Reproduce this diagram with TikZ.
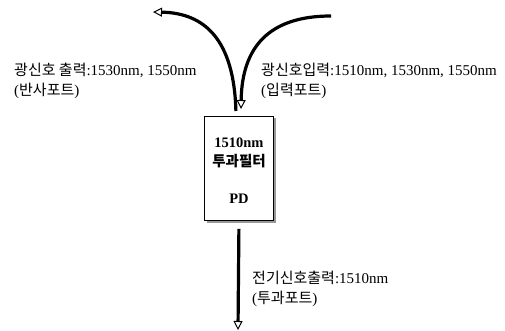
\documentclass[tikz,border=0pt]{standalone}
\usepackage{fontspec}
\setmainfont{Liberation Serif}
\newfontfamily\krfont{Noto Sans CJK KR}
\usetikzlibrary{arrows.meta,calc}

\tikzset{
  port/.style={line width=3.2pt, -{Triangle[open, length=9pt, width=9pt, line width=1pt]}},
  portlabel/.style={anchor=north west, inner sep=0pt, align=left,
    font=\fontsize{15}{20}\selectfont},
  filterbox/.style={draw, line width=0.8pt, fill=white, minimum width=69pt,
    minimum height=104pt, anchor=north west, inner sep=0pt},
}

\begin{document}
\begin{tikzpicture}[x=1pt, y=-1pt]
  \useasboundingbox (0,0) rectangle (505,331);
  % filter box with a thin shadow
  \fill[gray!80] (206.5,118.5) rectangle (275.5,222.5);
  \node[filterbox] (pd) at (204,116) {};
  \node[font=\bfseries\fontsize{14.5}{19}\selectfont, align=center, anchor=north]
    (pdtext) at (239,134) {1510nm\\{\krfont 투과필터}\\[18pt]PD};
  % ends of the connectors
  \coordinate (refl) at (153,12);
  \coordinate (inp) at (331,16);
  \coordinate (trans) at (238,330);
  % reflected port
  \draw[port] ($(pd.north)+(-3,-5)$) .. controls (234,40) and (205,13) .. (refl);
  % input port
  \draw[port] (inp) .. controls (268,16) and (242,48) .. (241,109);
  % transmission port
  \draw[port] ($(pd.south)+(0,8)$) -- (trans);
  % labels
  \node[portlabel] (refllabel) at (14,63)
    {{\krfont 광신호 출력}:1530nm, 1550nm\\({\krfont 반사포트})};
  \node[portlabel] (inplabel) at (261,63)
    {{\krfont 광신호입력}:1510nm, 1530nm, 1550nm\\({\krfont 입력포트})};
  \node[portlabel] (translabel) at (252,271)
    {{\krfont 전기신호출력}:1510nm\\({\krfont 투과포트})};
\end{tikzpicture}
\end{document}
